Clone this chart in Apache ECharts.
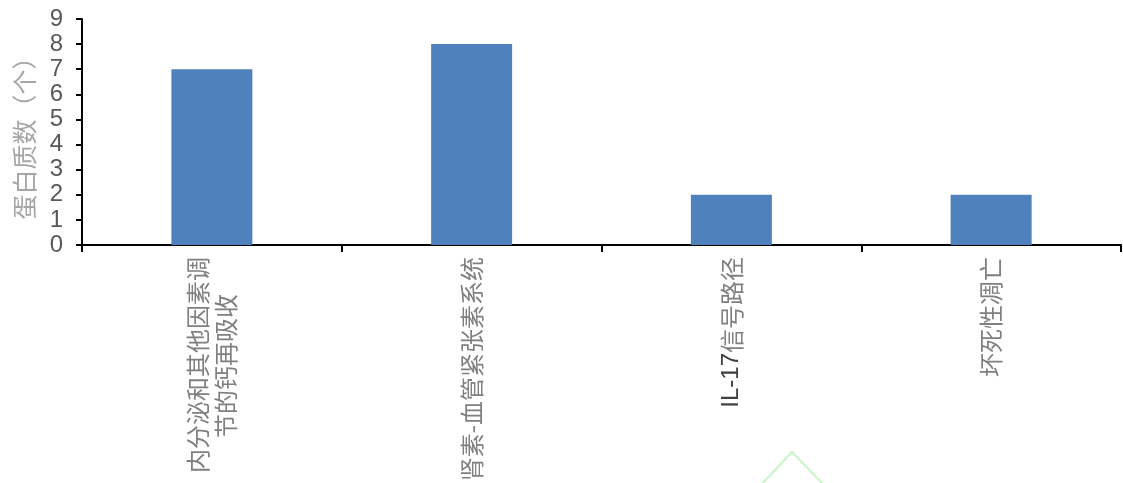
<!DOCTYPE html>
<html>
<head>
<meta charset="utf-8">
<script src="https://cdn.jsdelivr.net/npm/echarts@6/dist/echarts.min.js"></script>
<style>
  html, body { margin: 0; padding: 0; background: #fff; }
  #chart { width: 1123px; height: 483px; }
</style>
</head>
<body>
<div id="chart"></div>
<script>
// Pathway categories and protein counts per pathway
const categories = ['内分泌和其他因素调节的钙再吸收', '肾素-血管紧张素系统', 'IL-17信号路径', '坏死性凋亡'];
const proteinCounts = [7, 8, 2, 2];
const yTicks = [0, 1, 2, 3, 4, 5, 6, 7, 8, 9];

const chart = echarts.init(document.getElementById('chart'));

chart.setOption({
  backgroundColor: '#ffffff',
  animation: false,
  grid: { left: 82, right: 2, top: 19, bottom: 238, containLabel: false, outerBoundsMode: 'none' },
  xAxis: {
    type: 'category',
    data: categories,
    boundaryGap: true,
    axisLine: { lineStyle: { color: '#000', width: 2 } },
    axisTick: { show: true, length: 7, lineStyle: { color: '#000', width: 2 } },
    axisLabel: {
      rotate: 90,
      margin: 12,
      interval: 0,
      fontFamily: '"Noto Sans CJK SC", sans-serif',
      fontSize: 24,
      color: '#808080',
      formatter: function (v) {
        if (v === categories[0]) {
          return '{a|内分泌和其他因素调}\n{b|节的钙再吸收}';
        }
        if (v.indexOf('IL-17') === 0) {
          return '{l|IL-17}' + v.slice(5);
        }
        return v;
      },
      rich: {
        a: { fontSize: 24, color: '#808080', lineHeight: 28 },
        b: { fontSize: 24, color: '#808080', lineHeight: 28, padding: [0, 37, 0, 0] },
        l: { fontSize: 24, color: '#404040', fontFamily: 'Arial, "Liberation Sans", sans-serif' }
      }
    }
  },
  yAxis: {
    type: 'value',
    min: 0,
    max: 9,
    interval: 1,
    name: '蛋白质数（个）',
    nameLocation: 'middle',
    nameGap: 45,
    nameRotate: 90,
    nameTextStyle: {
      fontFamily: '"Noto Sans CJK SC", sans-serif',
      fontSize: 25,
      color: '#a6a6a6'
    },
    splitLine: { show: false },
    axisLine: { show: true, lineStyle: { color: '#000', width: 2 } },
    axisTick: { show: true, length: 6, lineStyle: { color: '#000', width: 2 } },
    axisLabel: {
      margin: 19,
      fontFamily: 'Arial, "Liberation Sans", sans-serif',
      fontSize: 24,
      color: '#595959',
      formatter: function (v) { return yTicks.indexOf(v) >= 0 ? String(v) : ''; }
    }
  },
  series: [{
    type: 'bar',
    data: proteinCounts,
    barWidth: 81,
    itemStyle: { color: '#4f81bd' }
  }],
  graphic: [{
    type: 'polyline',
    shape: { points: [[762, 484], [792, 452], [823, 484]] },
    style: { stroke: '#c8f5c8', lineWidth: 2, fill: null },
    silent: true
  }]
});
</script>
</body>
</html>
